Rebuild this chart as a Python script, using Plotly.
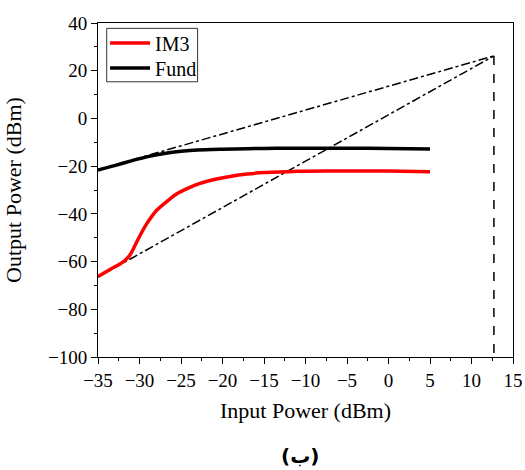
import plotly.graph_objects as go

# Data
im3_x = [-35, -33.5, -32, -31.2, -30.7, -30, -29.1, -27.9, -26.5, -25.5, -24, -22.7, -21, -19.1, -17, -15, -12, -10, -5, 0, 5]
im3_y = [-66.3, -63.2, -60.2, -57.5, -54.4, -49.5, -44, -38.4, -34.2, -31.6, -29.0, -27.2, -25.6, -24.3, -23.3, -22.7, -22.3, -22.1, -22.0, -22.0, -22.3]

fund_x = [-35, -33, -31, -29, -27, -25, -23, -20, -17, -15, -12, -10, -5, 0, 5]
fund_y = [-21.6, -19.8, -17.8, -16.0, -14.7, -13.8, -13.2, -12.9, -12.7, -12.6, -12.5, -12.5, -12.5, -12.6, -12.8]

fund_ext_x = [-35, 12.7]
fund_ext_y = [-21.5, 26.2]
im3_ext_x = [-35, 12.7]
im3_ext_y = [-66.5, 26.2]
ip3_x = [12.7, 12.7]
ip3_y = [26.2, -100]

x_ticks = [-35, -30, -25, -20, -15, -10, -5, 0, 5, 10, 15]
y_ticks = [-100, -80, -60, -40, -20, 0, 20, 40]

FONT = "Times New Roman, Liberation Serif, DejaVu Serif, serif"


def lbl(v):
    return str(v).replace("-", "\u2212")


fig = go.Figure()
fig.add_trace(go.Scatter(x=fund_ext_x, y=fund_ext_y, mode="lines",
                         line=dict(color="black", width=1.5, dash="dashdot"), showlegend=False))
fig.add_trace(go.Scatter(x=im3_ext_x, y=im3_ext_y, mode="lines",
                         line=dict(color="black", width=1.5, dash="dashdot"), showlegend=False))
fig.add_trace(go.Scatter(x=ip3_x, y=ip3_y, mode="lines",
                         line=dict(color="black", width=1.5, dash="dash"), showlegend=False))
fig.add_trace(go.Scatter(x=im3_x, y=im3_y, mode="lines", name="IM3", legend="legend",
                         line=dict(color="#ff0000", width=3.5, shape="spline", smoothing=0.6)))
fig.add_trace(go.Scatter(x=fund_x, y=fund_y, mode="lines", name="Fund", legend="legend2",
                         line=dict(color="black", width=3.5, shape="spline", smoothing=0.6)))

leg_common = dict(xanchor="left", yanchor="middle", borderwidth=0, itemwidth=40,
                  bgcolor="rgba(0,0,0,0)", font=dict(family=FONT, size=20))

fig.update_layout(
    width=525, height=470,
    margin=dict(l=98, r=12, t=23, b=113, autoexpand=False),
    plot_bgcolor="white", paper_bgcolor="white",
    font=dict(family=FONT, size=19, color="black"),
    legend=dict(x=0.017, y=0.940, **leg_common),
    legend2=dict(x=0.017, y=0.865, **leg_common),
    shapes=[dict(type="rect", xref="paper", yref="paper", x0=0.021, x1=0.240, y0=0.824, y1=0.984,
                 line=dict(color="#333333", width=1), fillcolor="rgba(0,0,0,0)", layer="above")],
    xaxis=dict(range=[-35, 15], tickvals=x_ticks, ticktext=[lbl(v) for v in x_ticks],
               showgrid=False, zeroline=False, showline=True, linecolor="black", linewidth=1,
               mirror=True, ticks="outside", ticklen=6, tickcolor="black", automargin=False,
               tickfont=dict(family=FONT, size=19),
               minor=dict(dtick=2.5, ticks="outside", ticklen=3, tickcolor="black"),
               title=dict(text="Input Power (dBm)", font=dict(family=FONT, size=22), standoff=12)),
    yaxis=dict(range=[-100, 40], tickvals=y_ticks, ticktext=[lbl(v) for v in y_ticks],
               showgrid=False, zeroline=False, showline=True, linecolor="black", linewidth=1,
               mirror=True, ticks="outside", ticklen=6, tickcolor="black", automargin=False,
               tickfont=dict(family=FONT, size=19),
               minor=dict(dtick=10, ticks="outside", ticklen=3, tickcolor="black"),
               title=dict(text="Output Power (dBm)", font=dict(family=FONT, size=22), standoff=20)),
    annotations=[dict(text="<b>(ب)</b>", xref="paper", yref="paper", x=0.487, y=-0.296,
                      xanchor="center", yanchor="middle", showarrow=False,
                      font=dict(family="DejaVu Sans", size=20))],
)

fig.write_html("out.html")
